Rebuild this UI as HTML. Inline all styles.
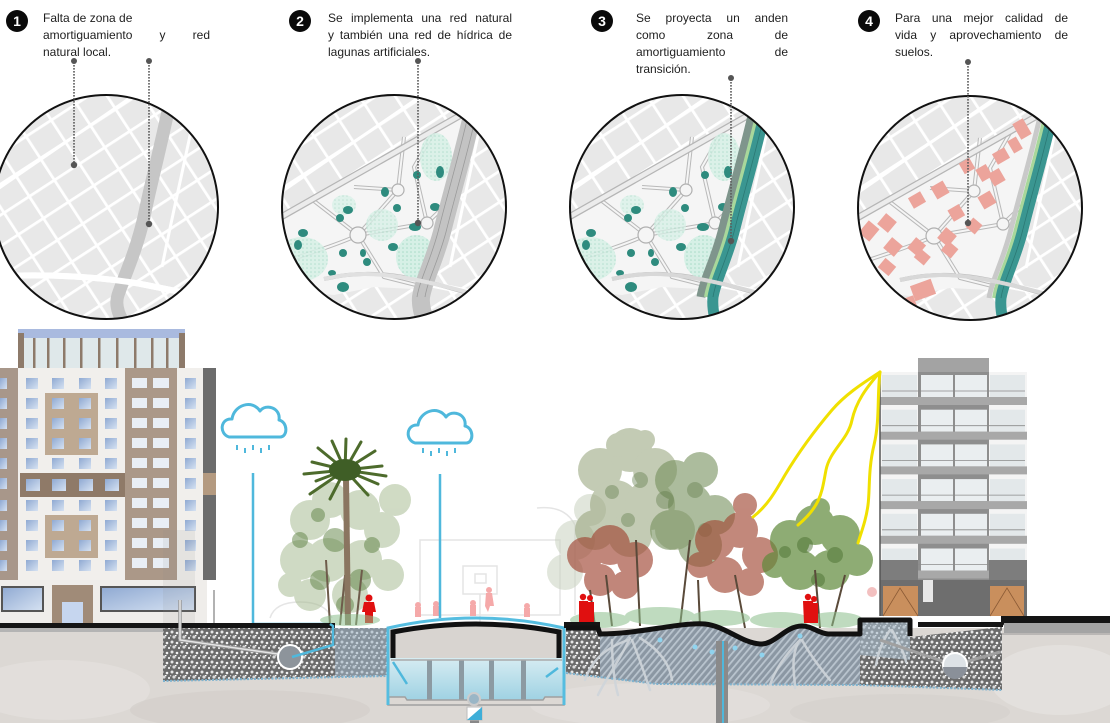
<!DOCTYPE html>
<html><head><meta charset="utf-8">
<style>
html,body{margin:0;padding:0;background:#fff;}
#wrap{position:relative;width:1110px;height:723px;overflow:hidden;font-family:"Liberation Sans","DejaVu Sans",sans-serif;background:#fff;}
svg{position:absolute;left:0;top:0;}
.t{position:absolute;top:10px;font-size:12px;line-height:17px;color:#1e1e1e;}
.t div{white-space:nowrap;}
.t div.j{text-align:justify;text-align-last:justify;white-space:normal;}
.b{position:absolute;width:22px;height:22px;border-radius:50%;background:#0a0a0a;color:#fff;font-weight:bold;font-size:14px;line-height:22px;text-align:center;}
</style></head>
<body><div id="wrap">
<svg width="1110" height="723" viewBox="0 0 1110 723" xmlns="http://www.w3.org/2000/svg">
<defs>
  <pattern id="grid" width="30" height="26" patternUnits="userSpaceOnUse" patternTransform="rotate(-33)">
    <rect width="30" height="26" fill="#e8e8e8"/>
    <rect width="30" height="2.8" fill="#fff"/>
    <rect width="2.8" height="26" fill="#fff"/>
  </pattern>
  <pattern id="mint" width="4" height="4" patternUnits="userSpaceOnUse">
    <rect width="4" height="4" fill="#d6f0e6"/>
    <circle cx="1" cy="1" r="0.8" fill="#a9dcc8"/>
  </pattern>
  <pattern id="gravel" width="10" height="10" patternUnits="userSpaceOnUse">
    <rect width="10" height="10" fill="#6a6a6a"/>
    <circle cx="2" cy="2" r="1.5" fill="#e6e6e6"/>
    <circle cx="7" cy="3" r="1.3" fill="#f2f2f2"/>
    <circle cx="4" cy="7" r="1.6" fill="#dadada"/>
    <circle cx="9" cy="8" r="1.1" fill="#eee"/>
    <rect x="5" y="5" width="1.5" height="1.2" fill="#fff"/>
    <rect x="0" y="5" width="1.2" height="1.4" fill="#cfcfcf"/>
  </pattern>
  <pattern id="hatch" width="5" height="5" patternUnits="userSpaceOnUse" patternTransform="rotate(40)">
    <rect width="5" height="5" fill="#8b97a3"/>
    <rect width="1.8" height="5" fill="#b9c4ce"/>
  </pattern>
  <linearGradient id="water" x1="0" y1="0" x2="0" y2="1">
    <stop offset="0" stop-color="#d6ecf2"/>
    <stop offset="1" stop-color="#9fd2e3"/>
  </linearGradient>
  <linearGradient id="glass" x1="0" y1="0" x2="1" y2="1">
    <stop offset="0" stop-color="#8fa9d2"/>
    <stop offset="1" stop-color="#d6e2f2"/>
  </linearGradient>
  <clipPath id="cc"><circle cx="0" cy="0" r="112"/></clipPath>

  <g id="base">
    <rect x="-120" y="-120" width="240" height="240" fill="url(#grid)"/>
    <path d="M-120,70 C-60,66 0,70 40,78 C70,84 100,90 120,95" stroke="#fff" stroke-width="6" fill="none"/>
    <path d="M92,-110 C80,-50 68,0 56,60" stroke="#fff" stroke-width="3" fill="none"/>
    <path d="M40,-120 L-120,-10" stroke="#fff" stroke-width="3" fill="none"/>
  </g>

  <g id="plan">
    <polygon points="-120,14 74,-96 84,-90 68,-40 55,0 44,40 35,70 20,82 -20,80 -60,88 -120,82" fill="#f5f5f5"/>
    <g fill="none" stroke="#b9b9b9" stroke-width="4">
      <path d="M-120,58 C-80,45 -50,35 -36,28"/>
      <path d="M-36,28 L4,-17"/>
      <path d="M4,-17 L10,-70"/>
      <path d="M-36,28 L-10,70 L30,80"/>
      <path d="M-36,28 L-80,-6"/>
      <path d="M-36,28 L33,16"/>
      <path d="M33,16 L60,-10"/>
      <path d="M33,16 L20,-40 L40,-75"/>
      <path d="M-70,72 C-20,60 20,70 80,88"/>
      <path d="M4,-17 L-40,-20"/>
    </g>
    <g fill="none" stroke="#f5f5f5" stroke-width="2">
      <path d="M-120,58 C-80,45 -50,35 -36,28"/>
      <path d="M-36,28 L4,-17"/>
      <path d="M4,-17 L10,-70"/>
      <path d="M-36,28 L-10,70 L30,80"/>
      <path d="M-36,28 L-80,-6"/>
      <path d="M-36,28 L33,16"/>
      <path d="M33,16 L60,-10"/>
      <path d="M33,16 L20,-40 L40,-75"/>
      <path d="M-70,72 C-20,60 20,70 80,88"/>
      <path d="M4,-17 L-40,-20"/>
    </g>
    <path d="M-120,14 L74,-96" stroke="#b5b5b5" stroke-width="7" fill="none"/>
    <path d="M-120,14 L74,-96" stroke="#ececec" stroke-width="4.5" fill="none"/>
    <g fill="#f5f5f5" stroke="#b0b0b0" stroke-width="1.2">
      <circle cx="-36" cy="28" r="8"/>
      <circle cx="4" cy="-17" r="6"/>
      <circle cx="33" cy="16" r="6"/>
    </g>
  </g>

  <g id="mintp">
    <ellipse cx="22" cy="50" rx="20" ry="22" fill="url(#mint)"/>
    <ellipse cx="-92" cy="52" rx="26" ry="22" fill="url(#mint)" opacity="0.85"/>
    <ellipse cx="42" cy="-50" rx="16" ry="24" fill="url(#mint)" opacity="0.85"/>
    <ellipse cx="-12" cy="18" rx="16" ry="16" fill="url(#mint)" opacity="0.75"/>
    <ellipse cx="-50" cy="-2" rx="12" ry="10" fill="url(#mint)" opacity="0.7"/>
  </g>

  <g id="ponds" fill="#2e8b7e">
    <ellipse cx="68" cy="-65" rx="4" ry="5"/>
    <ellipse cx="46" cy="-35" rx="4" ry="6"/>
    <ellipse cx="23" cy="-32" rx="4" ry="4"/>
    <ellipse cx="41" cy="0" rx="5" ry="4"/>
    <ellipse cx="21" cy="20" rx="6" ry="4"/>
    <ellipse cx="3" cy="1" rx="4" ry="4"/>
    <ellipse cx="-9" cy="-15" rx="4" ry="5"/>
    <ellipse cx="-46" cy="3" rx="5" ry="4"/>
    <ellipse cx="-54" cy="11" rx="4" ry="4"/>
    <ellipse cx="-91" cy="26" rx="5" ry="4"/>
    <ellipse cx="-96" cy="38" rx="4" ry="5"/>
    <ellipse cx="-51" cy="46" rx="4" ry="4"/>
    <ellipse cx="-31" cy="46" rx="3" ry="4"/>
    <ellipse cx="-1" cy="40" rx="5" ry="4"/>
    <ellipse cx="-62" cy="66" rx="4" ry="3"/>
    <ellipse cx="-51" cy="80" rx="6" ry="5"/>
    <ellipse cx="-27" cy="55" rx="4" ry="4"/>
  </g>
</defs>

<!-- ============ CIRCLE MAPS ============ -->
<g transform="translate(106,207)">
  <g clip-path="url(#cc)">
    <use href="#base"/>
    <path d="M66,-115 C55,-60 45,-25 38,10 C30,45 18,70 12,88 C8,100 15,112 20,120" stroke="#c6c6c6" stroke-width="13" fill="none"/>
    <path d="M-120,70 C-60,66 0,70 40,78 C70,84 100,90 120,95" stroke="#fff" stroke-width="6" fill="none"/>
  </g>
  <circle r="112" fill="none" stroke="#111" stroke-width="2"/>
</g>
<g transform="translate(394,207)">
  <g clip-path="url(#cc)">
    <use href="#base"/>
    <use href="#plan"/>
    <use href="#mintp"/>
    <use href="#ponds"/>
    <path d="M80,-100 C70,-55 58,-15 48,25 C40,55 30,72 27,90 C26,100 30,110 33,120" stroke="#c3c3c3" stroke-width="18" fill="none"/>
    <path d="M80,-100 C70,-55 58,-15 48,25 C40,55 30,72 27,90" stroke="#9a9a9a" stroke-width="0.8" fill="none" transform="translate(-4,0)"/>
    <path d="M80,-100 C70,-55 58,-15 48,25 C40,55 30,72 27,90" stroke="#9a9a9a" stroke-width="0.8" fill="none" transform="translate(4,0)"/>
    <path d="M-70,72 C-20,60 20,70 120,98" stroke="#e0e0e0" stroke-width="4" fill="none"/>
  </g>
  <circle r="112" fill="none" stroke="#111" stroke-width="2"/>
</g>
<g transform="translate(682,207)">
  <g clip-path="url(#cc)">
    <use href="#base"/>
    <use href="#plan"/>
    <use href="#mintp"/>
    <use href="#ponds"/>
    <path d="M72,-100 C62,-55 50,-15 40,25 C32,55 22,72 19,90" stroke="#7f958c" stroke-width="9" fill="none"/>
    <path d="M77,-100 C67,-55 55,-15 45,25 C37,55 27,72 24,90" stroke="#a8d79b" stroke-width="4" fill="none"/>
    <path d="M84,-100 C74,-55 62,-15 52,25 C44,55 34,72 31,90 C30,100 32,110 35,120" stroke="#3a9691" stroke-width="11" fill="none"/>
    <path d="M84,-100 C74,-55 62,-15 52,25 C44,55 34,72 31,90" stroke="#2b7874" stroke-width="0.8" fill="none"/>
    <path d="M-70,72 C-20,60 20,70 120,98" stroke="#d8d8d8" stroke-width="4" fill="none"/>
  </g>
  <circle r="112" fill="none" stroke="#111" stroke-width="2"/>
</g>
<g transform="translate(970,208)">
  <g clip-path="url(#cc)">
    <use href="#base"/>
    <use href="#plan"/>
    <g fill="#eca49b">
      <rect x="46" y="-88" width="12" height="18" transform="rotate(-30 52 -79)"/>
      <rect x="24" y="-58" width="14" height="12" transform="rotate(-30 31 -52)"/>
      <rect x="8" y="-42" width="12" height="14" transform="rotate(-30 14 -35)"/>
      <rect x="-9" y="-48" width="12" height="12" transform="rotate(-30 -3 -42)"/>
      <rect x="-37" y="-25" width="14" height="14" transform="rotate(-30 -30 -18)"/>
      <rect x="-60" y="-14" width="14" height="12" transform="rotate(-30 -53 -8)"/>
      <rect x="-90" y="8" width="14" height="14" transform="rotate(40 -83 15)"/>
      <rect x="-108" y="15" width="14" height="16" transform="rotate(40 -101 23)"/>
      <rect x="-84" y="32" width="14" height="14" transform="rotate(40 -77 39)"/>
      <rect x="-60" y="32" width="13" height="14" transform="rotate(40 -53 39)"/>
      <rect x="-30" y="22" width="14" height="14" transform="rotate(40 -23 29)"/>
      <rect x="-20" y="-2" width="13" height="13" transform="rotate(-30 -13 5)"/>
      <rect x="10" y="-15" width="14" height="14" transform="rotate(-30 17 -8)"/>
      <rect x="20" y="-38" width="13" height="14" transform="rotate(-30 27 -31)"/>
      <rect x="-27" y="36" width="13" height="12" transform="rotate(40 -20 42)"/>
      <rect x="-54" y="44" width="13" height="11" transform="rotate(40 -47 49)"/>
      <rect x="-90" y="53" width="14" height="12" transform="rotate(40 -83 59)"/>
      <rect x="-58" y="74" width="22" height="16" transform="rotate(-20 -47 82)"/>
      <rect x="-72" y="90" width="18" height="14" transform="rotate(-20 -63 97)"/>
      <rect x="40" y="-70" width="10" height="14" transform="rotate(-30 45 -63)"/>
      <rect x="-2" y="12" width="12" height="12" transform="rotate(40 4 18)"/>
    </g>
    <path d="M72,-100 C62,-55 50,-15 40,25 C32,55 22,72 19,90" stroke="#c9c9c9" stroke-width="5" fill="none"/>
    <path d="M77,-100 C67,-55 55,-15 45,25 C37,55 27,72 24,90" stroke="#a8d79b" stroke-width="4" fill="none"/>
    <path d="M84,-100 C74,-55 62,-15 52,25 C44,55 34,72 31,90 C30,100 32,110 35,120" stroke="#3a9691" stroke-width="11" fill="none"/>
    <path d="M84,-100 C74,-55 62,-15 52,25 C44,55 34,72 31,90" stroke="#2b7874" stroke-width="0.8" fill="none"/>
    <path d="M-70,72 C-20,60 20,70 120,98" stroke="#d8d8d8" stroke-width="4" fill="none"/>
  </g>
  <circle r="112" fill="none" stroke="#111" stroke-width="2"/>
</g>

<!-- leaders -->
<g stroke="#5a5a5a" stroke-width="1.6" stroke-dasharray="1.6 1.4" fill="none">
  <line x1="74" y1="62" x2="74" y2="164"/>
  <line x1="149" y1="62" x2="149" y2="223"/>
  <line x1="418" y1="62" x2="418" y2="222"/>
  <line x1="731" y1="79" x2="731" y2="240"/>
  <line x1="968" y1="63" x2="968" y2="222"/>
</g>
<g fill="#555">
  <circle cx="74" cy="61" r="3"/><circle cx="74" cy="165" r="3.2"/>
  <circle cx="149" cy="61" r="3"/><circle cx="149" cy="224" r="3.2"/>
  <circle cx="418" cy="61" r="3"/><circle cx="418" cy="223" r="3.2"/>
  <circle cx="731" cy="78" r="3"/><circle cx="731" cy="241" r="3.2"/>
  <circle cx="968" cy="62" r="3"/><circle cx="968" cy="223" r="3.2"/>
</g>

<!-- ============ SECTION ============ -->
<rect x="0" y="628" width="1110" height="95" fill="#dcd8d4"/>
<ellipse cx="60" cy="690" rx="90" ry="30" fill="#e4e1de" opacity="0.7"/>
<ellipse cx="250" cy="710" rx="120" ry="20" fill="#d3cfcb" opacity="0.7"/>
<ellipse cx="650" cy="705" rx="120" ry="22" fill="#e3e0dd" opacity="0.7"/>
<ellipse cx="1060" cy="680" rx="70" ry="35" fill="#e5e2df" opacity="0.8"/>
<ellipse cx="900" cy="712" rx="110" ry="18" fill="#d4d0cc" opacity="0.6"/>

<g stroke="#e2e2e2" stroke-width="1.5" fill="none" opacity="0.9">
  <rect x="463" y="566" width="34" height="28"/>
  <rect x="475" y="574" width="11" height="9"/>
  <line x1="480" y1="594" x2="480" y2="622"/>
  <path d="M537,508 Q565,505 575,525 L575,615"/>
  <path d="M270,618 Q275,602 300,602 Q325,602 332,618"/>
  <rect x="420" y="540" width="140" height="75"/>
</g>
<g fill="#f5a9a9">
  <circle cx="418" cy="605" r="3"/><rect x="415" y="607" width="6" height="10"/>
  <circle cx="436" cy="604" r="3"/><rect x="433" y="606" width="6" height="10"/>
  <circle cx="473" cy="603" r="3"/><rect x="470" y="605" width="6" height="11"/>
  <circle cx="489" cy="590" r="3"/><path d="M486,593 L492,593 L494,606 L490,606 L488,612 L485,606 Z"/>
  <circle cx="527" cy="606" r="3"/><rect x="524" y="608" width="6" height="9"/>
  <circle cx="872" cy="592" r="5" fill="#f3c0c0"/>
</g>

<!-- left building -->
<rect x="18" y="329" width="167" height="40" fill="#dfe8ea"/>
<rect x="18" y="329" width="167" height="9" fill="#a9badf"/>
<g fill="#8d7a6a">
  <rect x="18" y="333" width="6" height="36"/><rect x="179" y="333" width="6" height="36"/>
  <rect x="33" y="338" width="2.5" height="31"/><rect x="47" y="338" width="2.5" height="31"/>
  <rect x="63" y="338" width="2.5" height="31"/><rect x="80" y="338" width="2.5" height="31"/>
  <rect x="98" y="338" width="2.5" height="31"/><rect x="116" y="338" width="2.5" height="31"/>
  <rect x="134" y="338" width="2.5" height="31"/><rect x="151" y="338" width="2.5" height="31"/>
  <rect x="166" y="338" width="2.5" height="31"/>
</g>
<rect x="0" y="368" width="207" height="215" fill="#f1efec"/>
<rect x="0" y="368" width="18" height="212" fill="#a8978a"/>
<rect x="125" y="368" width="52" height="212" fill="#ab9888"/>
<rect x="203" y="368" width="13" height="212" fill="#6c6c6c"/>
<rect x="203" y="473" width="13" height="22" fill="#b49a80"/>
<rect x="45" y="393" width="53" height="62" fill="#bea992"/>
<rect x="45" y="515" width="53" height="43" fill="#bea992"/>
<rect x="20" y="473" width="105" height="24" fill="#8f7a68"/>
<g fill="url(#glass)">
  <rect x="26" y="378" width="12" height="11"/><rect x="52" y="378" width="12" height="11"/><rect x="79" y="378" width="12" height="11"/><rect x="105" y="378" width="12" height="11"/>
  <rect x="26" y="398" width="12" height="11"/><rect x="52" y="398" width="12" height="11"/><rect x="79" y="398" width="12" height="11"/><rect x="105" y="398" width="12" height="11"/>
  <rect x="26" y="418" width="12" height="11"/><rect x="52" y="418" width="12" height="11"/><rect x="79" y="418" width="12" height="11"/><rect x="105" y="418" width="12" height="11"/>
  <rect x="26" y="438" width="12" height="11"/><rect x="52" y="438" width="12" height="11"/><rect x="79" y="438" width="12" height="11"/><rect x="105" y="438" width="12" height="11"/>
  <rect x="26" y="458" width="12" height="11"/><rect x="52" y="458" width="12" height="11"/><rect x="79" y="458" width="12" height="11"/><rect x="105" y="458" width="12" height="11"/>
  <rect x="26" y="479" width="14" height="12"/><rect x="52" y="479" width="14" height="12"/><rect x="79" y="479" width="14" height="12"/><rect x="105" y="479" width="14" height="12"/>
  <rect x="26" y="500" width="12" height="11"/><rect x="52" y="500" width="12" height="11"/><rect x="79" y="500" width="12" height="11"/><rect x="105" y="500" width="12" height="11"/>
  <rect x="26" y="520" width="12" height="11"/><rect x="52" y="520" width="12" height="11"/><rect x="79" y="520" width="12" height="11"/><rect x="105" y="520" width="12" height="11"/>
  <rect x="26" y="540" width="12" height="11"/><rect x="52" y="540" width="12" height="11"/><rect x="79" y="540" width="12" height="11"/><rect x="105" y="540" width="12" height="11"/>
  <rect x="26" y="560" width="12" height="11"/><rect x="52" y="560" width="12" height="11"/><rect x="79" y="560" width="12" height="11"/><rect x="105" y="560" width="12" height="11"/>
  <rect x="185" y="378" width="11" height="11"/><rect x="185" y="398" width="11" height="11"/><rect x="185" y="418" width="11" height="11"/><rect x="185" y="438" width="11" height="11"/><rect x="185" y="458" width="11" height="11"/><rect x="185" y="478" width="11" height="11"/><rect x="185" y="500" width="11" height="11"/><rect x="185" y="520" width="11" height="11"/><rect x="185" y="540" width="11" height="11"/><rect x="185" y="560" width="11" height="11"/>
  <rect x="0" y="378" width="7" height="11"/><rect x="0" y="398" width="7" height="11"/><rect x="0" y="418" width="7" height="11"/><rect x="0" y="438" width="7" height="11"/><rect x="0" y="458" width="7" height="11"/><rect x="0" y="478" width="7" height="11"/><rect x="0" y="500" width="7" height="11"/><rect x="0" y="520" width="7" height="11"/><rect x="0" y="540" width="7" height="11"/><rect x="0" y="560" width="7" height="11"/>
</g>
<g fill="#e9eef5">
  <rect x="132" y="378" width="15" height="10"/><rect x="153" y="378" width="16" height="10"/>
  <rect x="132" y="398" width="15" height="10"/><rect x="153" y="398" width="16" height="10"/>
  <rect x="132" y="418" width="15" height="10"/><rect x="153" y="418" width="16" height="10"/>
  <rect x="132" y="438" width="15" height="10"/><rect x="153" y="438" width="16" height="10"/>
  <rect x="132" y="458" width="15" height="10"/><rect x="153" y="458" width="16" height="10"/>
  <rect x="132" y="478" width="15" height="10"/><rect x="153" y="478" width="16" height="10"/>
  <rect x="132" y="498" width="15" height="10"/><rect x="153" y="498" width="16" height="10"/>
  <rect x="132" y="518" width="15" height="10"/><rect x="153" y="518" width="16" height="10"/>
  <rect x="132" y="538" width="15" height="10"/><rect x="153" y="538" width="16" height="10"/>
  <rect x="132" y="558" width="15" height="10"/><rect x="153" y="558" width="16" height="10"/>
</g>
<rect x="0" y="580" width="207" height="43" fill="#efedea"/>
<rect x="2" y="587" width="41" height="24" fill="url(#glass)" stroke="#555" stroke-width="2"/>
<rect x="52" y="585" width="41" height="38" fill="#a08b78"/>
<rect x="62" y="602" width="21" height="21" fill="#c6d6ef"/>
<rect x="101" y="587" width="94" height="24" fill="url(#glass)" stroke="#555" stroke-width="2"/>
<rect x="163" y="530" width="32" height="93" fill="#888" opacity="0.12"/>
<line x1="214" y1="590" x2="214" y2="624" stroke="#999" stroke-width="1.5"/>

<!-- right building -->
<rect x="918" y="358" width="71" height="16" fill="#a3a3a3"/>
<rect x="880" y="372" width="147" height="243" fill="#f4f4f4"/>
<rect x="918" y="372" width="71" height="243" fill="#8e8e8e"/>
<g id="floor">
  <rect x="882" y="375" width="35" height="22" fill="#e3e8ea"/>
  <rect x="921" y="375" width="32" height="22" fill="#eaeef0"/>
  <rect x="955" y="375" width="32" height="22" fill="#eaeef0"/>
  <rect x="990" y="375" width="35" height="22" fill="#e3e8ea"/>
  <rect x="880" y="397" width="147" height="8" fill="#a8a8a8"/>
  <line x1="882" y1="391" x2="1025" y2="391" stroke="#8a8a8a" stroke-width="0.8"/>
</g>
<use href="#floor" transform="translate(0,34.7)"/>
<use href="#floor" transform="translate(0,69.4)"/>
<use href="#floor" transform="translate(0,104.1)"/>
<use href="#floor" transform="translate(0,138.8)"/>
<use href="#floor" transform="translate(0,173.5)"/>
<rect x="880" y="560" width="38" height="22" fill="#7d7d7d"/>
<rect x="989" y="560" width="38" height="22" fill="#7d7d7d"/>
<rect x="880" y="580" width="147" height="36" fill="#6e6e6e"/>
<rect x="883" y="586" width="35" height="30" fill="#c98f5d"/>
<rect x="990" y="586" width="34" height="30" fill="#c98f5d"/>
<path d="M883,616 L900,588 L918,616 M990,616 L1007,588 L1024,616" stroke="#8a5a35" stroke-width="0.8" fill="none"/>
<rect x="923" y="580" width="10" height="22" fill="#e8e8e8"/>
<line x1="880" y1="372" x2="880" y2="616" stroke="#555" stroke-width="1.5"/>

<!-- clouds & rain -->
<g stroke="#4fb8dc" stroke-width="3" fill="none" stroke-linecap="round" stroke-linejoin="round">
  <path d="M229,437 C219,434 220,418 232,419 C234,405 252,399 260,411 C266,403 281,408 279,420 C288,422 288,437 280,437 Z"/>
  <path d="M415,443 C405,440 406,424 418,425 C420,411 438,405 446,417 C452,409 467,414 465,426 C474,428 474,443 466,443 Z"/>
</g>
<g stroke="#4fb8dc" stroke-width="2">
  <line x1="237" y1="445" x2="237" y2="450"/><line x1="245" y1="448" x2="245" y2="453"/><line x1="253" y1="445" x2="253" y2="450"/><line x1="261" y1="448" x2="261" y2="453"/><line x1="269" y1="445" x2="269" y2="450"/>
  <line x1="423" y1="448" x2="423" y2="453"/><line x1="431" y1="451" x2="431" y2="456"/><line x1="439" y1="448" x2="439" y2="453"/><line x1="447" y1="451" x2="447" y2="456"/><line x1="455" y1="448" x2="455" y2="453"/>
</g>
<g stroke="#4fb8dc" stroke-width="2.5" fill="none">
  <path d="M253,473 L253,624 L330,624"/>
  <line x1="440" y1="474" x2="440" y2="618"/>
</g>

<!-- trees: behind palm -->
<g fill="#a9bd94" opacity="0.55">
  <circle cx="310" cy="520" r="20"/><circle cx="330" cy="500" r="18"/><circle cx="360" cy="510" r="20"/><circle cx="382" cy="530" r="18"/>
  <circle cx="300" cy="560" r="20"/><circle cx="328" cy="560" r="22"/><circle cx="362" cy="560" r="20"/><circle cx="388" cy="575" r="16"/>
  <circle cx="310" cy="595" r="16"/><circle cx="350" cy="595" r="18"/><circle cx="395" cy="500" r="16"/><circle cx="290" cy="585" r="12"/>
</g>
<g fill="#5f8244" opacity="0.5">
  <circle cx="335" cy="540" r="12"/><circle cx="360" cy="580" r="11"/><circle cx="320" cy="580" r="10"/><circle cx="300" cy="540" r="8"/>
  <circle cx="372" cy="545" r="8"/><circle cx="345" cy="605" r="9"/><circle cx="318" cy="515" r="7"/>
</g>
<g stroke="#6e5c4b" stroke-width="2" fill="none">
  <path d="M330,625 L326,560"/><path d="M340,625 L345,575"/><path d="M356,625 L362,570"/>
</g>
<path d="M346,478 L348,625" stroke="#8a7560" stroke-width="6"/>
<g stroke="#4d6b2c" stroke-width="3" fill="none" stroke-linecap="round">
  <path d="M345,470 L312,462"/><path d="M345,470 L318,448"/><path d="M345,470 L332,441"/><path d="M345,470 L346,439"/>
  <path d="M345,470 L361,442"/><path d="M345,470 L375,451"/><path d="M345,470 L382,466"/><path d="M345,470 L378,484"/>
  <path d="M345,470 L316,481"/><path d="M345,470 L310,494"/><path d="M345,470 L368,495"/><path d="M345,470 L330,499"/>
  <path d="M345,470 L304,474"/><path d="M345,470 L386,476"/>
</g>
<ellipse cx="345" cy="470" rx="16" ry="11" fill="#3f5e26"/>
<g fill="#e01010">
  <circle cx="369" cy="598" r="3.5"/><path d="M364,602 L374,602 L376,612 L373,612 L373,623 L365,623 L365,612 L362,612 Z"/>
</g>

<!-- right tree cluster -->
<g fill="#c9d2c0" opacity="0.55">
  <circle cx="575" cy="540" r="20"/><circle cx="565" cy="572" r="18"/><circle cx="590" cy="510" r="16"/>
</g>
<g fill="#93a177" opacity="0.55">
  <circle cx="600" cy="470" r="22"/><circle cx="630" cy="450" r="22"/><circle cx="655" cy="470" r="22"/><circle cx="615" cy="505" r="25"/>
  <circle cx="650" cy="505" r="25"/><circle cx="595" cy="530" r="20"/><circle cx="675" cy="530" r="20"/><circle cx="630" cy="535" r="22"/>
  <circle cx="618" cy="445" r="12"/><circle cx="645" cy="440" r="10"/>
</g>
<g fill="#76905d" opacity="0.6">
  <circle cx="675" cy="480" r="20"/><circle cx="700" cy="470" r="18"/><circle cx="690" cy="505" r="22"/><circle cx="715" cy="515" r="20"/>
  <circle cx="670" cy="530" r="20"/><circle cx="700" cy="545" r="22"/>
</g>
<g fill="#5f7a48" opacity="0.4">
  <circle cx="640" cy="480" r="8"/><circle cx="612" cy="492" r="7"/><circle cx="665" cy="500" r="9"/><circle cx="695" cy="490" r="8"/>
  <circle cx="705" cy="530" r="7"/><circle cx="628" cy="520" r="7"/>
</g>
<g fill="#a04634" opacity="0.65">
  <circle cx="585" cy="555" r="18"/><circle cx="610" cy="545" r="20"/><circle cx="635" cy="560" r="18"/><circle cx="600" cy="580" r="16"/><circle cx="625" cy="585" r="14"/>
</g>
<g fill="#a24a36" opacity="0.65">
  <circle cx="715" cy="540" r="20"/><circle cx="740" cy="530" r="18"/><circle cx="760" cy="555" r="18"/><circle cx="725" cy="575" r="18"/>
  <circle cx="750" cy="582" r="14"/><circle cx="700" cy="565" r="13"/><circle cx="745" cy="505" r="12"/>
</g>
<g fill="#5f8a3a" opacity="0.7">
  <circle cx="790" cy="540" r="20"/><circle cx="815" cy="525" r="20"/><circle cx="840" cy="535" r="20"/><circle cx="857" cy="560" r="16"/>
  <circle cx="800" cy="570" r="20"/><circle cx="830" cy="570" r="20"/><circle cx="775" cy="565" r="13"/><circle cx="820" cy="508" r="10"/>
</g>
<g fill="#456a2a" opacity="0.45">
  <circle cx="805" cy="545" r="8"/><circle cx="835" cy="555" r="8"/><circle cx="818" cy="580" r="7"/><circle cx="785" cy="552" r="6"/>
</g>
<g stroke="#5a4a3a" stroke-width="2" fill="none">
  <path d="M640,626 L636,540"/><path d="M612,626 L606,575"/><path d="M680,626 L690,540"/><path d="M700,626 L698,580"/>
  <path d="M745,628 L735,575"/><path d="M820,628 L815,570"/><path d="M832,626 L845,575"/><path d="M595,626 L590,590"/>
</g>
<g fill="#8cbf8c" opacity="0.55">
  <ellipse cx="600" cy="620" rx="30" ry="8"/><ellipse cx="660" cy="616" rx="35" ry="9"/><ellipse cx="720" cy="618" rx="30" ry="8"/>
  <ellipse cx="780" cy="620" rx="30" ry="8"/><ellipse cx="835" cy="620" rx="28" ry="8"/><ellipse cx="350" cy="620" rx="30" ry="6"/>
</g>
<g fill="#e01010">
  <circle cx="583" cy="597" r="3.2"/><path d="M579,601 L588,601 L589,623 L579,623 Z"/>
  <circle cx="590" cy="598" r="3"/><path d="M587,602 L594,602 L594,623 L588,623 Z"/>
  <circle cx="808" cy="597" r="3.2"/><path d="M803,601 L813,601 L815,623 L804,623 Z"/>
  <circle cx="814" cy="599" r="3"/><path d="M811,603 L818,603 L818,623 L812,623 Z"/>
</g>

<!-- ============ UNDERGROUND ============ -->
<rect x="0" y="623" width="335" height="5" fill="#151515"/>
<rect x="0" y="628" width="163" height="4" fill="#b4b4b4"/>
<path d="M163,628 L387,628 L387,676 L163,681 Z" fill="url(#gravel)"/>
<path d="M335,628 L387,628 L387,676 L335,677 Z" fill="#9fb4c6" opacity="0.55"/>
<path d="M163,681 L387,676" stroke="#7fb3cf" stroke-width="2" stroke-dasharray="2 1.5"/>
<path d="M180,600 L180,640 L285,655" stroke="#9a9a9a" stroke-width="3.5" fill="none"/>
<path d="M180,600 L180,640 L285,655" stroke="#e6e6e6" stroke-width="1.5" fill="none"/>
<circle cx="290" cy="657" r="12" fill="#8d949b" stroke="#fff" stroke-width="2"/>
<path d="M330,624 L333,626 L333,645 L292,657" stroke="#4fb8dc" stroke-width="2.5" fill="none"/>

<rect x="390" y="658" width="173" height="42" fill="url(#water)"/>
<g fill="#8c9aa2">
  <rect x="427" y="660" width="5" height="40"/><rect x="459" y="660" width="5" height="40"/>
  <rect x="489" y="660" width="5" height="40"/><rect x="521" y="660" width="5" height="40"/>
</g>
<path d="M388,705 L388,697 L405,697 L407,700 L543,700 L545,697 L564,697 L564,705 Z" fill="#dcd8d4" stroke="#a0a0a0" stroke-width="1.5"/>
<path d="M388,705 L388,628 Q476,608 564,628 L564,705" fill="none" stroke="#55bde0" stroke-width="3"/>
<path d="M393,658 L393,632 Q476,616 559,632 L559,658" fill="#d8d4d0" stroke="#111" stroke-width="5"/>
<line x1="391" y1="660" x2="562" y2="660" stroke="#aaa" stroke-width="1.5"/>
<path d="M393,662 L407,684 M558,668 L546,677" stroke="#4fb8dc" stroke-width="2.5" fill="none"/>
<rect x="470" y="712" width="9" height="11" fill="#888"/>
<circle cx="474" cy="699" r="6" fill="#9ab6c6" stroke="#ccc" stroke-width="2"/>
<rect x="467" y="707" width="15" height="13" fill="#fff" stroke="#bbb" stroke-width="1"/>
<path d="M467,720 L482,707 L482,720 Z" fill="#3eaed8"/>

<path d="M564,622 L600,622 L600,628 L564,628 Z" fill="#151515"/>
<path d="M566,628 L598,628 L600,634 C640,634 680,622 705,624 C725,626 742,643 760,644 C775,645 785,626 802,626 C812,626 818,633 828,634 L860,634 L860,622 L910,622 L910,637 L1002,627 L1002,690 L860,685 L657,684 L566,673 Z" fill="url(#gravel)"/>
<path d="M600,634 C640,634 680,622 705,624 C725,626 742,643 760,644 C775,645 785,626 802,626 C812,626 818,633 828,634 L860,634 L860,685 L657,684 L600,678 Z" fill="url(#hatch)"/>
<path d="M860,622 L910,622 L910,660 L860,655 Z" fill="#a9bccb" opacity="0.6"/>
<path d="M566,673 L657,684 L860,685 L1002,690" stroke="#7fb3cf" stroke-width="2" stroke-dasharray="2 1.5" fill="none"/>
<g stroke="#cfd5da" stroke-width="2.5" fill="none" opacity="0.9" stroke-linecap="round">
  <path d="M630,638 C620,660 605,680 598,695"/><path d="M632,640 C640,660 645,675 650,690"/><path d="M628,640 C600,650 590,665 585,680"/>
  <path d="M640,638 C660,650 670,665 672,680"/><path d="M612,640 C612,665 615,685 618,695"/>
  <path d="M800,640 C785,655 775,670 770,685"/><path d="M802,640 C810,655 820,668 830,680"/><path d="M798,642 C790,662 795,675 795,688"/>
  <path d="M890,630 C880,645 878,655 876,665"/><path d="M892,630 C900,645 905,655 906,662"/>
</g>
<g fill="#8fd3ee">
  <circle cx="660" cy="640" r="2.5"/><circle cx="695" cy="647" r="2.5"/><circle cx="712" cy="652" r="2.5"/><circle cx="735" cy="648" r="2.5"/><circle cx="762" cy="655" r="2.5"/><circle cx="800" cy="636" r="2.5"/>
</g>
<rect x="716" y="641" width="12" height="82" fill="#8a8a8a"/>
<line x1="723" y1="641" x2="723" y2="723" stroke="#4fb8dc" stroke-width="2"/>
<path d="M566,628 L598,628 L600,634 C640,634 680,622 705,624 C725,626 742,643 760,644 C775,645 785,626 802,626 C812,626 818,633 828,634 L860,634 L860,620 L910,620 L910,636" fill="none" stroke="#111" stroke-width="5" stroke-linejoin="round"/>
<rect x="918" y="622" width="84" height="5" fill="#151515"/>
<path d="M1002,627 L1002,617 L1110,617 L1110,623 L1005,623" fill="#151515" stroke="#151515" stroke-width="2"/>
<rect x="1004" y="623" width="106" height="10" fill="#a4a4a4"/>
<rect x="1002" y="633" width="108" height="2" fill="#888" opacity="0.4"/>
<path d="M880,640 L945,662 M965,662 L1000,652" stroke="#a0a0a0" stroke-width="3" fill="none"/>
<circle cx="955" cy="665" r="12" fill="#dde2e6" stroke="#fff" stroke-width="2"/>
<path d="M943,667 A12,12 0 0 0 967,667 Z" fill="#8a9099"/>

<!-- yellow wind lines (topmost) -->
<path d="M880,372 C860,385 845,395 832,410 C815,430 800,450 785,475 C775,492 768,505 753,517" stroke="#f0e000" stroke-width="3" fill="none" stroke-linecap="round"/>
<path d="M880,372 C866,388 856,402 852,420 C848,440 830,450 826,470 C822,490 822,505 798,525" stroke="#f0e000" stroke-width="3" fill="none" stroke-linecap="round"/>
<path d="M880,372 C877,395 880,420 874,445 C868,470 870,490 868,505 C866,520 862,530 858,543" stroke="#f0e000" stroke-width="3" fill="none" stroke-linecap="round"/>
</svg>

<div class="b" style="left:6px;top:10px;">1</div>
<div class="b" style="left:289px;top:10px;">2</div>
<div class="b" style="left:591px;top:10px;">3</div>
<div class="b" style="left:858px;top:10px;">4</div>

<div class="t" style="left:43px;width:167px;">
  <div>Falta de zona de</div>
  <div class="j">amortiguamiento y red</div>
  <div>natural local.</div>
</div>
<div class="t" style="left:328px;width:184px;">
  <div class="j">Se implementa una red natural</div>
  <div class="j">y también una red de hídrica de</div>
  <div>lagunas artificiales.</div>
</div>
<div class="t" style="left:636px;width:152px;">
  <div class="j">Se proyecta un anden</div>
  <div class="j">como zona de</div>
  <div class="j">amortiguamiento de</div>
  <div>transición.</div>
</div>
<div class="t" style="left:895px;width:173px;">
  <div class="j">Para una mejor calidad de</div>
  <div class="j">vida y aprovechamiento de</div>
  <div>suelos.</div>
</div>
</div></body></html>
